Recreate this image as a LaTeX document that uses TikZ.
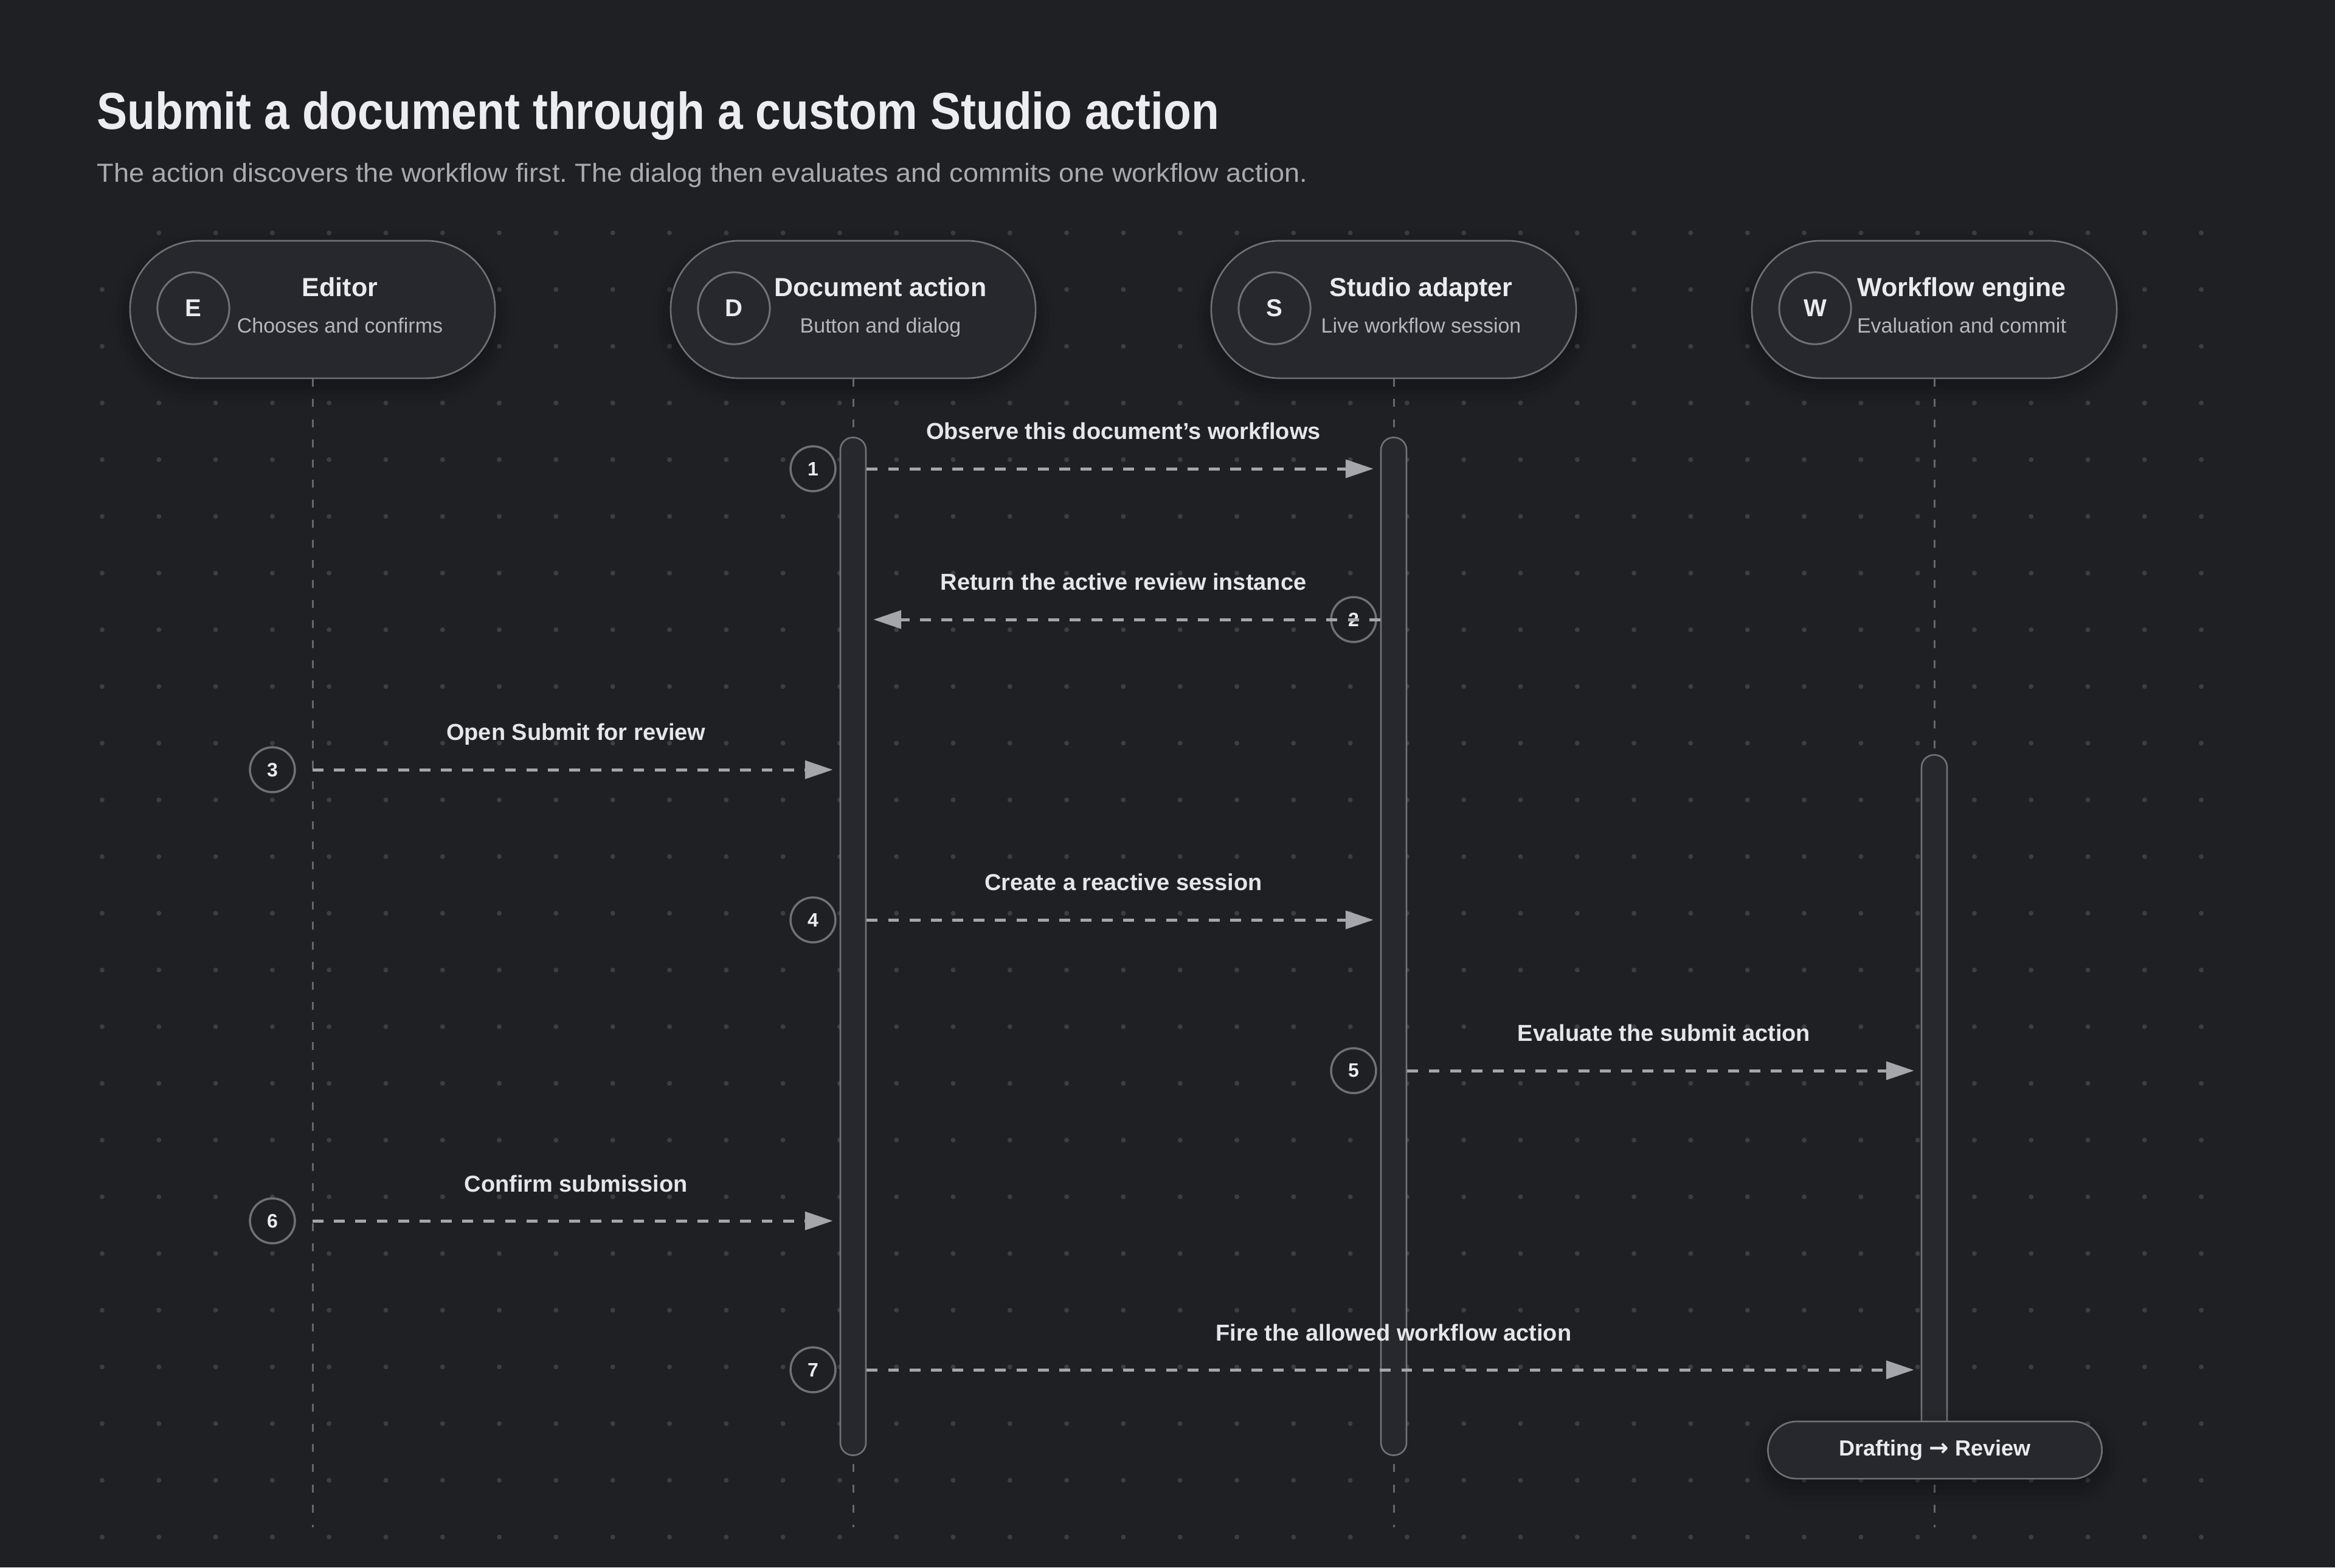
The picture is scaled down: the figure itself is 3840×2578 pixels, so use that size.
\documentclass[tikz,border=0pt]{standalone}
\usepackage{graphicx}
\usepackage{fontspec}
\setmainfont{Liberation Sans}
\newfontfamily\arrowfont{DejaVu Sans}
\usetikzlibrary{shapes.misc,arrows.meta,calc,shadows.blur}
\definecolor{bg}{HTML}{1F2024}
\definecolor{pillc}{HTML}{27282D}
\definecolor{strokec}{HTML}{707177}
\definecolor{dotc}{HTML}{3D3E43}
\definecolor{lifec}{HTML}{66676D}
\definecolor{arrowc}{HTML}{A5A6AC}
\definecolor{titlec}{HTML}{EDEDEF}
\definecolor{subc}{HTML}{A9AAAF}
\definecolor{pilltext}{HTML}{EBEBED}
\definecolor{pillsub}{HTML}{B6B7BC}
\definecolor{labelc}{HTML}{E6E6E8}
\frenchspacing
\begin{document}
\begin{tikzpicture}[x=0.01cm, y=-0.01cm,
  lifeline/.style={draw=lifec, line width=0.85pt, dash pattern=on 3.7pt off 5.7pt},
  actor/.style={rounded rectangle, draw=strokec, line width=0.75pt, fill=pillc,
    minimum width=170.7pt, minimum height=64.3pt, inner sep=0pt,
    blur shadow={shadow xshift=0pt, shadow yshift=-4pt, shadow blur radius=9pt, shadow opacity=40}},
  avatar/.style={circle, draw=strokec, line width=0.85pt, fill=pillc, minimum size=33.6pt,
    inner sep=0pt, text=pilltext, font=\fontsize{11.4pt}{13pt}\selectfont\bfseries},
  actname/.style={anchor=base, inner sep=0pt, text=pilltext, font=\fontsize{12.23pt}{14pt}\selectfont\bfseries},
  actsub/.style={anchor=base, inner sep=0pt, text=pillsub, font=\fontsize{9.67pt}{11pt}\selectfont},
  actbar/.style={rectangle, rounded corners=5.8pt, draw=strokec, line width=0.75pt, fill=pillc,
    minimum width=11.95pt, inner sep=0pt},
  badge/.style={circle, draw=strokec, line width=1pt, fill=bg, minimum size=21pt, inner sep=0pt,
    text=pilltext, font=\fontsize{9.1pt}{10pt}\selectfont\bfseries},
  msg/.style={draw=arrowc, line width=1.42pt, dash pattern=on 5.1pt off 4.9pt,
    -{Triangle[length=13pt,width=8.4pt]}, shorten >=3.13pt},
  msglabel/.style={anchor=base, inner sep=0pt, yshift=13.66pt, text=labelc,
    font=\fontsize{10.8pt}{12pt}\selectfont\bfseries},
  statepill/.style={rounded rectangle, draw=strokec, line width=0.75pt, fill=pillc,
    minimum width=156.2pt, minimum height=26.75pt, inner sep=0pt, text=pilltext,
    font=\fontsize{10.24pt}{12pt}\selectfont\bfseries,
    blur shadow={shadow xshift=0pt, shadow yshift=-4pt, shadow blur radius=9pt, shadow opacity=40}}
]
% background
\fill[bg] (0,0) rectangle (3840,2578);
\useasboundingbox (0,0) rectangle (3840,2578);
% dot grid
\foreach \i in {0,...,37}{
  \foreach \j in {0,...,23}{
    \ifnum\numexpr\i+\j\relax>0
      \fill[dotc] (168+93.3*\i,383+93.26*\j) circle[radius=1.14pt];
    \fi
  }
}
% title
\node[anchor=base west, inner sep=0pt, text=titlec] (title) at (159,212)
  {\resizebox{524.7pt}{\height}{\fontsize{24.3pt}{28pt}\selectfont\bfseries Submit a document through a custom Studio action}};
\node[anchor=base west, inner sep=0pt, text=subc] (subtitle) at (159,299)
  {\resizebox{565.9pt}{\height}{\fontsize{12.23pt}{14pt}\selectfont The action discovers the workflow first. The dialog then evaluates and commits one workflow action.}};

% coordinates
\coordinate (bottom) at (0,2512);
\foreach \n/\y in {m1/771,m2/1019,m3/1266,m4/1513,m5/1761,m6/2008,m7/2253}{
  \coordinate (\n) at (0,\y);
}

% participants
\node[actor] (ed) at (514,509) {};
\node[actor] (da) at (1403,509) {};
\node[actor] (sa) at (2292,509) {};
\node[actor] (we) at (3181,509) {};

% lifelines
\foreach \p in {ed,da,sa,we}{
  \draw[lifeline] (\p.south) -- (\p.south |- bottom);
}

% participant contents
\node[avatar] (edav) at ($(ed)+(-196,-2)$) {E};
\node[actname] (edname) at ($(ed)+(45,-22)$) {Editor};
\node[actsub] (edsub) at ($(ed)+(45,38)$) {Chooses and confirms};

\node[avatar] (daav) at ($(da)+(-196,-2)$) {D};
\node[actname] (daname) at ($(da)+(45,-22)$) {Document action};
\node[actsub] (dasub) at ($(da)+(45,38)$) {Button and dialog};

\node[avatar] (saav) at ($(sa)+(-196,-2)$) {S};
\node[actname] (saname) at ($(sa)+(45,-22)$) {Studio adapter};
\node[actsub] (sasub) at ($(sa)+(45,38)$) {Live workflow session};

\node[avatar] (weav) at ($(we)+(-196,-2)$) {W};
\node[actname] (wename) at ($(we)+(45,-22)$) {Workflow engine};
\node[actsub] (wesub) at ($(we)+(45,38)$) {Evaluation and commit};

% activation bars
\node[actbar, minimum height=476pt] (dbar) at (1403,1556.5) {};
\node[actbar, minimum height=476pt] (sbar) at (2292,1556.5) {};
\node[actbar, minimum height=327.5pt] (wbar) at (3181,1817.5) {};

% step badges
\node[badge] (b1) at (1337,771) {1};
\node[badge] (b2) at (2226,1019) {2};
\node[badge] (b3) at (448,1266) {3};
\node[badge] (b4) at (1337,1513) {4};
\node[badge] (b5) at (2226,1761) {5};
\node[badge] (b6) at (448,2008) {6};
\node[badge] (b7) at (1337,2253) {7};

% messages
\draw[msg] (dbar.east |- m1) -- node[msglabel] {Observe this document’s workflows} (sbar.west |- m1);
\draw[msg] (sbar.west |- m2) -- node[msglabel] {Return the active review instance} (dbar.east |- m2);
\draw[msg] (ed.south |- m3) -- node[msglabel] {Open Submit for review} (dbar.west |- m3);
\draw[msg] (dbar.east |- m4) -- node[msglabel] {Create a reactive session} (sbar.west |- m4);
\draw[msg] (sbar.east |- m5) -- node[msglabel] {Evaluate the submit action} (wbar.west |- m5);
\draw[msg] (ed.south |- m6) -- node[msglabel] {Confirm submission} (dbar.west |- m6);
\draw[msg] (dbar.east |- m7) -- node[msglabel] {Fire the allowed workflow action} (wbar.west |- m7);

% state change
\node[statepill] (state) at (3182,2385) {Drafting {\arrowfont\bfseries\fontsize{11pt}{12pt}\selectfont →} Review};
\end{tikzpicture}
\end{document}
